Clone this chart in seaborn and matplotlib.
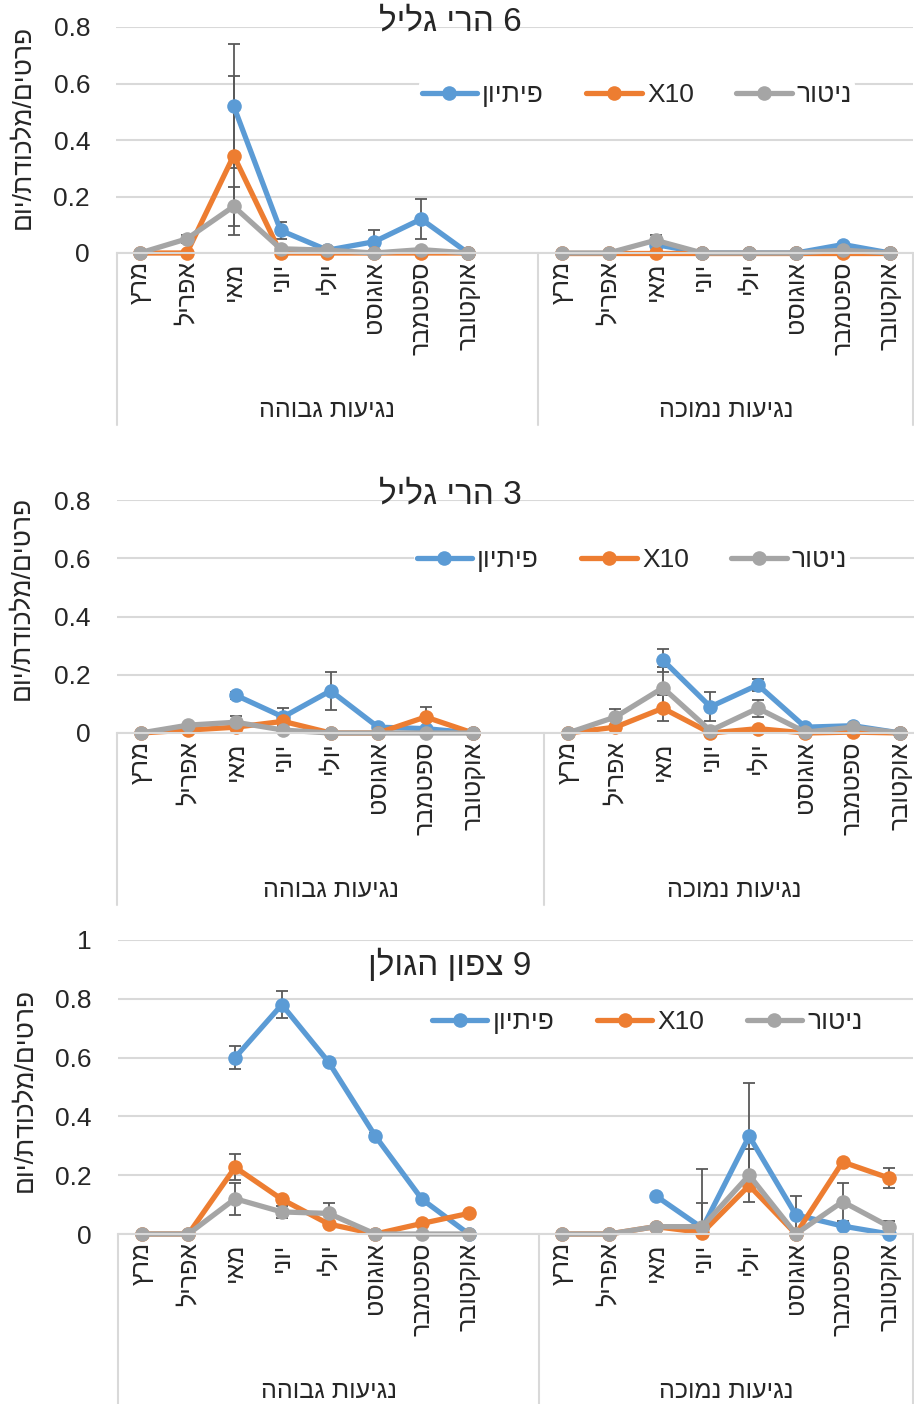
import numpy as np
import pandas as pd
import seaborn as sns
import matplotlib.pyplot as plt
from matplotlib.lines import Line2D

nan = np.nan

# categories
months = ['מרץ', 'אפריל', 'מאי', 'יוני', 'יולי', 'אוגוסט', 'ספטמבר', 'אוקטובר']
groups = ['נגיעות גבוהה', 'נגיעות נמוכה']
series = ['פיתיון', 'X10', 'ניטור']
titles = ['6 הרי גליל', '3 הרי גליל', '9 צפון הגולן']
ylabel = 'פרטים/מלכודת/יום'

# each list: 8 months of high infestation, then 8 months of low infestation
galil6_bait = [nan, nan, 0.52, 0.08, 0.01, 0.04, 0.12, 0.0,
               nan, nan, 0.03, 0.0, 0.0, 0.0, 0.03, 0.0]
galil6_x10 = [0.0, 0.0, 0.345, 0.0, 0.0, 0.0, 0.0, 0.0,
              0.0, 0.0, 0.0, 0.0, 0.0, 0.0, 0.0, 0.0]
galil6_mon = [0.0, 0.05, 0.165, 0.015, 0.01, 0.0, 0.012, 0.0,
              0.0, 0.0, 0.045, 0.0, 0.0, 0.0, 0.01, 0.0]
galil6_bait_err = [nan, nan, 0.22, 0.03, nan, 0.04, 0.07, nan,
                   nan, nan, nan, nan, nan, nan, nan, nan]
galil6_x10_err = [nan, nan, 0.28, nan, nan, nan, nan, nan,
                  nan, nan, nan, nan, nan, nan, nan, nan]
galil6_mon_err = [nan, 0.015, 0.07, nan, nan, nan, nan, nan,
                  nan, nan, 0.02, nan, nan, nan, nan, nan]

galil3_bait = [nan, nan, 0.13, 0.055, 0.145, 0.02, 0.015, 0.0,
               nan, nan, 0.25, 0.09, 0.165, 0.02, 0.025, 0.0]
galil3_x10 = [0.0, 0.01, 0.02, 0.04, 0.0, 0.0, 0.055, 0.0,
              0.0, 0.02, 0.085, 0.0, 0.015, 0.0, 0.003, 0.0]
galil3_mon = [0.0, 0.027, 0.037, 0.01, 0.0, 0.0, 0.0, 0.0,
              0.0, 0.055, 0.155, 0.008, 0.085, 0.003, 0.02, 0.0]
galil3_bait_err = [nan, nan, 0.012, 0.03, 0.065, 0.01, nan, nan,
                   nan, nan, 0.04, 0.05, 0.02, 0.01, nan, nan]
galil3_x10_err = [nan, nan, nan, nan, nan, nan, 0.035, nan,
                  nan, nan, 0.045, nan, nan, nan, nan, nan]
galil3_mon_err = [nan, nan, 0.02, nan, nan, nan, nan, nan,
                  nan, 0.028, 0.07, nan, 0.03, nan, nan, nan]

golan9_bait = [nan, nan, 0.6, 0.78, 0.585, 0.333, 0.118, 0.0,
               nan, nan, 0.13, 0.02, 0.333, 0.065, 0.027, 0.0]
golan9_x10 = [0.0, 0.0, 0.227, 0.118, 0.034, 0.0, 0.036, 0.07,
              0.0, 0.0, 0.025, 0.005, 0.165, 0.0, 0.245, 0.19]
golan9_mon = [0.0, 0.0, 0.12, 0.075, 0.07, 0.0, 0.0, 0.0,
              0.0, 0.0, 0.025, 0.025, 0.2, 0.0, 0.11, 0.025]
golan9_bait_err = [nan, nan, 0.04, 0.047, 0.01, 0.01, nan, nan,
                   nan, nan, nan, 0.2, 0.18, 0.065, nan, nan]
golan9_x10_err = [nan, nan, 0.045, nan, nan, nan, nan, nan,
                  nan, nan, nan, nan, nan, nan, nan, 0.035]
golan9_mon_err = [nan, nan, 0.055, 0.02, 0.036, nan, nan, nan,
                  nan, nan, nan, 0.08, 0.09, nan, 0.065, 0.02]

panels = [
    (galil6_bait, galil6_x10, galil6_mon, galil6_bait_err, galil6_x10_err, galil6_mon_err),
    (galil3_bait, galil3_x10, galil3_mon, galil3_bait_err, galil3_x10_err, galil3_mon_err),
    (golan9_bait, golan9_x10, golan9_mon, golan9_bait_err, golan9_x10_err, golan9_mon_err),
]
ymax = [0.8, 0.8, 1.0]

colors = ['#5B9BD5', '#ED7D31', '#A5A5A5']
grid_c = '#D9D9D9'


def rtl(s):
    # matplotlib has no bidi support, so Hebrew strings are reversed for display
    if any('\u0590' <= c <= '\u05ff' for c in s):
        return s[::-1]
    return s


sns.set_theme(style='white')
plt.rcParams['font.family'] = ['Liberation Sans', 'DejaVu Sans']

W, H = 914, 1404
fig = plt.figure(figsize=(W / 100, H / 100), dpi=100)

# axes boxes in pixels: left, right, top (ymax), bottom (0)
boxes = [(116.5, 913.4, 27, 253), (117, 924, 500, 733), (118.3, 912.7, 940, 1234)]
title_y = [22, 495, 965]
legend_xy = [(0.653, 0.70), (0.638, 0.742), (0.666, 0.721)]
ylabel_y = [0.56, 0.58, 0.49]

n = len(months)
pos = [i + g * (n + 1) for g in range(len(groups)) for i in range(n)]
bounds = [-0.5, n + 0.5, 2 * n + 0.5]

for k, data in enumerate(panels):
    l, r, t, b = boxes[k]
    ax = fig.add_axes([l / W, 1 - b / H, (r - l) / W, (b - t) / H])

    vals, errs = data[:3], data[3:]
    df = pd.DataFrame({
        'pos': pos * 3,
        'val': [v for s in vals for v in s],
        'series': [name for name in series for _ in pos],
        'group': [g for _ in series for g in range(len(groups)) for _ in range(n)],
    }).dropna()

    # error bars are clipped at the plot area, as in the original
    for j in range(3):
        ax.errorbar(pos, vals[j], yerr=errs[j], fmt='none', ecolor='#595959',
                    elinewidth=1.3, capsize=4.5, capthick=1.3, zorder=1.5 + j * 0.01)

    sns.lineplot(data=df, x='pos', y='val', hue='series', hue_order=series,
                 units='group', estimator=None, palette=colors, marker='o',
                 markersize=10.5, markeredgewidth=0, linewidth=3.8, ax=ax,
                 legend=False, clip_on=False)

    ax.set_xlim(bounds[0], bounds[-1])
    ax.set_ylim(0, ymax[k])
    yt = np.round(np.arange(0, ymax[k] + 0.01, 0.2), 1)
    ax.set_yticks(yt)
    ax.set_yticklabels([f'{v:g}' for v in yt], fontsize=19)
    ax.set_xticks(pos)
    ax.set_xticklabels([rtl(m) for m in months] * 2, rotation=90, fontsize=18,
                       va='top', ha='center')
    ax.tick_params(axis='y', length=0, pad=19)
    ax.tick_params(axis='x', length=0, pad=6)
    ax.grid(axis='y', color=grid_c, linewidth=1.5)
    ax.set_axisbelow(True)
    for side in ['left', 'top', 'right']:
        ax.spines[side].set_visible(False)
    ax.spines['bottom'].set_color(grid_c)
    ax.spines['bottom'].set_linewidth(1.5)
    ax.set_xlabel('')
    ax.set_ylabel(rtl(ylabel), fontsize=19)
    ax.yaxis.set_label_coords(-0.103, ylabel_y[k])

    # group separators and group labels under the month labels
    depth = 172 / ax.bbox.height
    for x in bounds:
        ax.plot([x, x], [0, -depth], transform=ax.get_xaxis_transform(),
                color=grid_c, linewidth=1.5, clip_on=False)
    for g, name in enumerate(groups):
        cx = (bounds[g] + bounds[g + 1]) / 2
        ax.annotate(rtl(name), xy=(cx, 0), xycoords=('data', 'axes fraction'),
                    xytext=(0, -113), textcoords='offset points',
                    ha='center', va='center', fontsize=18)

    handles = [Line2D([], [], color=c, linewidth=3.8, marker='o', markersize=10.5,
                      markeredgewidth=0) for c in colors]
    ax.legend(handles, [rtl(s) for s in series], ncol=3, loc='center',
              bbox_to_anchor=legend_xy[k], fontsize=19, frameon=True,
              facecolor='white', edgecolor='none', framealpha=1,
              handlelength=2.1, handletextpad=0.2, columnspacing=1.6,
              borderpad=0.1)

    fig.text(450 / W, 1 - title_y[k] / H, rtl(titles[k]), ha='center', va='center',
             fontsize=24)

fig.savefig('out.png', dpi=100)
